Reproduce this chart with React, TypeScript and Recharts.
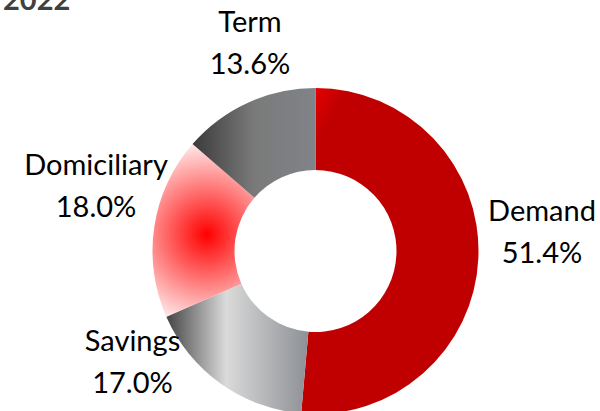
import React from 'react';
import { PieChart, Pie, Cell } from 'recharts';

const title = '2022';
const categories = ['Demand', 'Savings', 'Domiciliary', 'Term'];
const shares = [51.4, 17.0, 18.0, 13.6];
const shareLabels = ['51.4%', '17.0%', '18.0%', '13.6%'];

const data = categories.map((name, i) => ({ name, value: shares[i] }));

// layout
const W = 600;
const H = 411;
const CX = 315.5;
const CY = 251;
const INNER = 81;
const OUTER = 163;
const LABEL_R = 215;
const LINE = 42;
const CAP = 20.5;
const FONT_SIZE = 29;
const FONT = 'Lato, "Open Sans", sans-serif';
const labelNudge: [number, number][] = [
  [11.7, -28.5],
  [-57.7, -63.7],
  [-6.9, -32.7],
  [23.6, -12.3],
];

const RAD = Math.PI / 180;
const total = shares.reduce((a, b) => a + b, 0);
const midAngleOf = (idx: number) => {
  const before = shares.slice(0, idx).reduce((a, b) => a + b, 0);
  return 90 - (360 * (before + shares[idx] / 2)) / total;
};
const domMid = midAngleOf(2);
const domR = 110;
const domGx = CX + domR * Math.cos(-domMid * RAD);
const domGy = CY + domR * Math.sin(-domMid * RAD);

const fills = ['url(#gDemand)', 'url(#gSavings)', 'url(#gDom)', 'url(#gTerm)'];

const renderLabel = (props: any) => {
  const { midAngle, index } = props;
  const cx = typeof props.cx === 'number' ? props.cx : CX;
  const cy = typeof props.cy === 'number' ? props.cy : CY;
  const x = cx + LABEL_R * Math.cos(-midAngle * RAD) + labelNudge[index][0];
  const yc = cy + LABEL_R * Math.sin(-midAngle * RAD) + labelNudge[index][1];
  const b1 = yc - (LINE - CAP) / 2;
  return (
    <text
      key={`lbl-${index}`}
      x={x}
      y={b1}
      textAnchor="middle"
      fontFamily={FONT}
      fontSize={FONT_SIZE}
      fill="#000000"
    >
      <tspan x={x} y={b1}>{categories[index]}</tspan>
      <tspan x={x} y={b1 + LINE}>{shareLabels[index]}</tspan>
    </text>
  );
};

export default function App() {
  return (
    <div style={{ position: 'absolute', left: 0, top: 0, width: W, height: H, background: '#fff' }}>
      <PieChart width={W} height={H} margin={{ top: 0, right: 0, bottom: 0, left: 0 }}>
        <defs>
          <linearGradient id="gDemand" x1="0" y1="0" x2="1" y2="1">
            <stop offset="0" stopColor="#F50000" />
            <stop offset="0.13" stopColor="#C00000" />
            <stop offset="1" stopColor="#C00000" />
          </linearGradient>
          <linearGradient id="gSavings" x1="0" y1="0" x2="1" y2="0">
            <stop offset="0" stopColor="#444444" />
            <stop offset="0.42" stopColor="#DADADA" />
            <stop offset="1" stopColor="#8D9095" />
          </linearGradient>
          <linearGradient id="gTerm" x1="0" y1="0" x2="1" y2="0">
            <stop offset="0" stopColor="#3A3A3A" />
            <stop offset="0.5" stopColor="#7A7A7A" />
            <stop offset="1" stopColor="#808388" />
          </linearGradient>
          <radialGradient id="gDom" gradientUnits="userSpaceOnUse" cx={domGx} cy={domGy} r={100}>
            <stop offset="0" stopColor="#FF0000" />
            <stop offset="1" stopColor="#FFFFFF" />
          </radialGradient>
        </defs>
        <Pie
          data={data}
          dataKey="value"
          nameKey="name"
          cx={CX}
          cy={CY}
          innerRadius={INNER}
          outerRadius={OUTER}
          startAngle={90}
          endAngle={-270}
          stroke="none"
          label={renderLabel}
          labelLine={false}
          isAnimationActive={false}
        >
          {data.map((d, i) => (
            <Cell key={d.name} fill={fills[i]} />
          ))}
        </Pie>
        <text x={3} y={10} fontFamily={FONT} fontWeight={700} fontSize={29} fill="#404040">
          {title}
        </text>
      </PieChart>
    </div>
  );
}
